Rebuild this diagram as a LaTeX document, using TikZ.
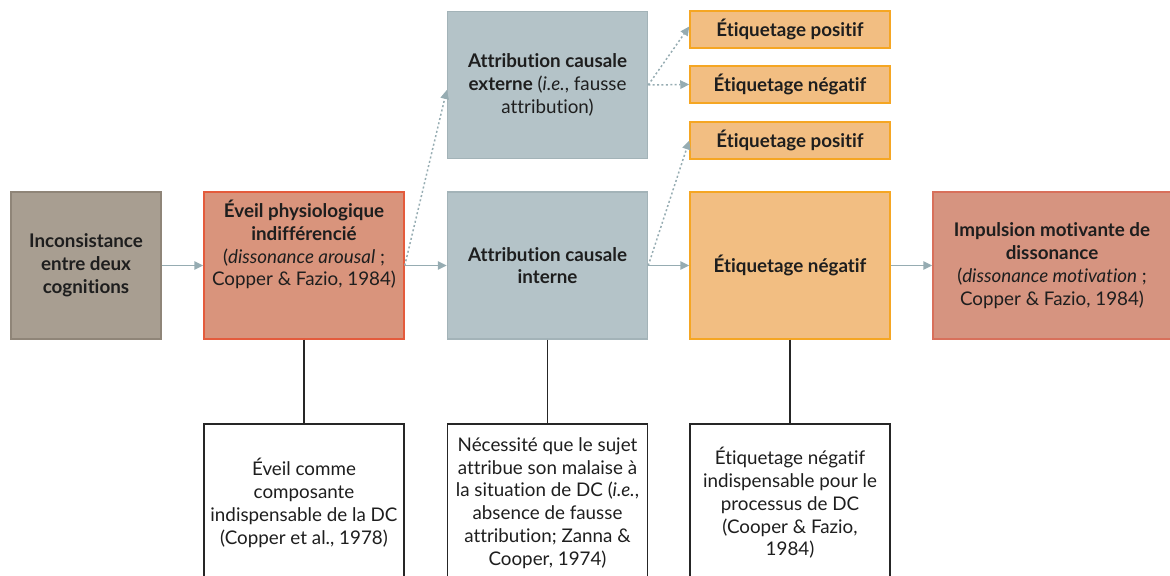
\documentclass[tikz,border=0pt]{standalone}
\usepackage{fontspec}
\setmainfont{Lato}[Ligatures={NoCommon}]
\usetikzlibrary{arrows.meta}

\definecolor{incfond}{HTML}{A89E91}
\definecolor{incbord}{HTML}{8F8578}
\definecolor{eveilfond}{HTML}{D9947C}
\definecolor{eveilbord}{HTML}{E45B3C}
\definecolor{attrfond}{HTML}{B4C3C8}
\definecolor{attrbord}{HTML}{A3B3B8}
\definecolor{etiqfond}{HTML}{F2BE82}
\definecolor{etiqbord}{HTML}{F5A623}
\definecolor{impfond}{HTML}{D69480}
\definecolor{impbord}{HTML}{D8705B}
\definecolor{fleche}{HTML}{96ACB2}
\definecolor{texte}{HTML}{1E1E1E}

\tikzset{
  bloc/.style={draw, line width=0.75pt, align=center, inner sep=0pt,
    text=texte, font=\fontsize{9.4}{11.4}\selectfont},
  grand/.style={bloc, minimum width=100pt, minimum height=73.5pt},
  petit/.style={bloc, minimum width=100pt, minimum height=18.5pt,
    fill=etiqfond, draw=etiqbord, font=\bfseries\fontsize{9.4}{11.4}\selectfont},
  note/.style={bloc, minimum width=100pt, minimum height=79pt,
    draw=black!85, line width=0.65pt, fill=white},
  suite/.style={draw=fleche, line width=0.75pt,
    -{Triangle[length=4.5pt, width=4.2pt]}},
  piste/.style={suite, dash pattern=on 1pt off 1.2pt},
  lien/.style={draw=black!85, line width=0.55pt}
}

\begin{document}
\begin{tikzpicture}[x=0.5pt, y=-0.5pt]
  \useasboundingbox[clip] (0,0) rectangle (1170,576);

  % chaine principale
  \node[grand, minimum width=75pt, fill=incfond, draw=incbord, font=\bfseries\fontsize{9.4}{11.4}\selectfont]
    (inc) at (86,265.5) {Inconsistance\\entre deux\\cognitions};
  \node[grand, fill=eveilfond, draw=eveilbord] (eveil) at (304,265.5) {};
  \node[bloc, draw=none, anchor=north] (eveiltxt) at ([yshift=-4pt]eveil.north)
    {\textbf{Éveil physiologique}\\\textbf{indifférencié}\\(\textit{dissonance arousal} ;\\Copper \& Fazio, 1984)};
  \node[grand, fill=attrfond, draw=attrbord] (ext) at (547.5,85)
    {\textbf{Attribution causale}\\\textbf{externe} (\textit{i.e.}, fausse\\attribution)};
  \node[grand, fill=attrfond, draw=attrbord] (int) at (547.5,265.5)
    {\textbf{Attribution causale}\\\textbf{interne}};
  \node[grand, fill=etiqfond, draw=etiqbord] (neg) at (790,265.5)
    {\textbf{Étiquetage négatif}};
  \node[grand, minimum width=119pt, fill=impfond, draw=impbord] (imp) at (1052,265.5)
    {\textbf{Impulsion motivante de}\\\textbf{dissonance}\\(\textit{dissonance motivation} ;\\Copper \& Fazio, 1984)};

  % etiquetages
  \node[petit] (pos1) at (790,29.5) {Étiquetage positif};
  \node[petit] (neg1) at (790,84.5) {Étiquetage négatif};
  \node[petit] (pos2) at (790,140.5) {Étiquetage positif};

  % notes du bas
  \node[note] (n1) at (304,503)
    {Éveil comme\\composante\\indispensable de la DC\\(Copper et al., 1978)};
  \node[note] (n2) at (547.5,503)
    {Nécessité que le sujet\\attribue son malaise à\\la situation de DC (\textit{i.e.},\\absence de fausse\\attribution; Zanna \&\\Cooper, 1974)};
  \node[note] (n3) at (790,503)
    {Étiquetage négatif\\indispensable pour le\\processus de DC\\(Cooper \& Fazio,\\1984)};

  % fleches
  \draw[suite] (inc.east) -- (eveil.west);
  \draw[suite] (eveil.east) -- (int.west);
  \draw[suite] (int.east) -- (neg.west);
  \draw[suite] (neg.east) -- (imp.west);
  \draw[piste] (eveil.east) -- ([yshift=-2.5pt]ext.west);
  \draw[piste] (ext.east) -- ([yshift=1.5pt]pos1.west);
  \draw[piste] (ext.east) -- (neg1.west);
  \draw[piste] (int.east) -- (pos2.west);

  \draw[lien] (eveil.south) -- (n1.north);
  \draw[lien] (int.south) -- (n2.north);
  \draw[lien] (neg.south) -- (n3.north);
\end{tikzpicture}
\end{document}
